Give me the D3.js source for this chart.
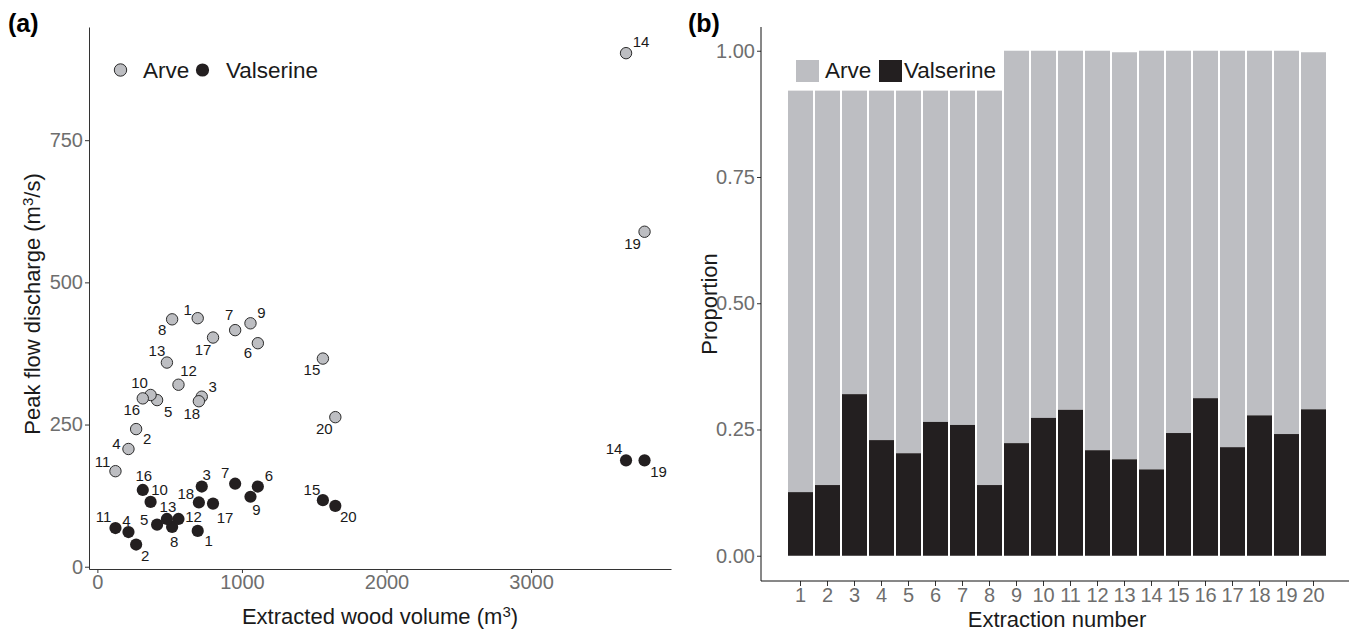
<!DOCTYPE html>
<html><head><meta charset="utf-8">
<script src="https://cdn.jsdelivr.net/npm/d3@7/dist/d3.min.js"></script>
<style>
body{margin:0;background:#fff}
svg{display:block}
text{font-family:"Liberation Sans",Arial,Helvetica,sans-serif}
</style>
</head><body>
<svg id="c" width="1351" height="631"></svg>
<script>
// ---------- data ----------
const extractionNumbers = [1,2,3,4,5,6,7,8,9,10,11,12,13,14,15,16,17,18,19,20];
const woodVolume = [694,268,722,215,413,1110,953,517,1059,368,125,561,481,3657,1560,314,800,702,3785,1646];
const arvePeak = [437,242,299,207,293,393,416,435,428,302,168,320,359,903,366,296,403,291,589,263];
const valserinePeak = [63,39,141,61,74,141,146,70,123,114,68,84,84,187,117,135,111,113,187,107];
const valserineShare = [0.126,0.140,0.320,0.229,0.203,0.265,0.259,0.140,0.223,0.273,0.289,0.209,0.191,0.171,0.243,0.312,0.215,0.278,0.241,0.290];
const barTotal = [0.921,0.921,0.921,0.921,0.921,0.921,0.921,0.921,1,1,1,1,0.997,1,1,1,1,1,1,0.997];
const volumeTicks = [0,1000,2000,3000];
const peakTicks = [0,250,500,750];
const propTicks = [0,0.25,0.5,0.75,1];
const seriesNames = ["Arve","Valserine"];

// ---------- layout (label nudges, px) ----------
const arveNudge = [[-10,-9],[11,9],[11,-10],[-12,-5],[11,11],[-10,9],[-6,-16],[-10,10],[11,-11],[-11,-12],
                   [-13,-10],[10,-14],[-10,-12],[15,-12],[-11,11],[-11,11],[-10,12],[-7,12],[-12,12],[-11,11]];
const valNudge = [[11,10],[9,11],[5,-12],[-2,-12],[-13,-5],[11,-11],[-10,-11],[2,15],[6,13],[9,-12],
                  [-12,-12],[15,-2],[1,-12],[-12,-12],[-11,-11],[1,-14],[12,14],[-13,-9],[14,11],[13,11]];

const GREY = "#bdbec2", BLACK = "#231f20", TICKTXT = "#6e6e6e", AXIS = "#333";
const TICKFS = "20px", TITLEFS = "22px", LEGFS = "22.5px", PTFS = "15px";
const svg = d3.select("#c");

// ================= Panel (a) =================
const x = d3.scaleLinear().domain([-58, 3968]).range([89, 671]);
const y = d3.scaleLinear().domain([-4, 949]).range([569, 27]);

const gxa = svg.append("g").attr("transform", `translate(0,${y(-4)})`)
  .call(d3.axisBottom(x).tickValues(volumeTicks).tickFormat(d3.format("d")).tickSizeOuter(0).tickSizeInner(4).tickPadding(2));
const gya = svg.append("g").attr("transform", `translate(${x(-58)},0)`)
  .call(d3.axisLeft(y).tickValues(peakTicks).tickFormat(d3.format("d")).tickSizeOuter(0).tickSizeInner(4).tickPadding(2));
[gxa, gya].forEach(g => {
  g.select(".domain").attr("stroke", AXIS).attr("stroke-width", 1);
  g.selectAll(".tick line").attr("stroke", AXIS);
  g.selectAll(".tick text").attr("fill", TICKTXT).style("font-size", TICKFS).style("font-family", '"Liberation Sans",Arial,sans-serif');
});

const ptsData = extractionNumbers.map((n, i) => ({n, v: woodVolume[i], a: arvePeak[i], s: valserinePeak[i], an: arveNudge[i], sn: valNudge[i]}));

svg.append("g").selectAll("circle").data(ptsData).join("circle")
  .attr("cx", d => x(d.v)).attr("cy", d => y(d.a)).attr("r", 5.7)
  .attr("fill", GREY).attr("stroke", "#2b2b2b").attr("stroke-width", 1);
svg.append("g").selectAll("circle").data(ptsData).join("circle")
  .attr("cx", d => x(d.v)).attr("cy", d => y(d.s)).attr("r", 6.1)
  .attr("fill", BLACK);

svg.append("g").selectAll("text").data(ptsData).join("text")
  .attr("x", d => x(d.v) + d.an[0]).attr("y", d => y(d.a) + d.an[1])
  .attr("text-anchor", "middle").attr("dominant-baseline", "central")
  .style("font-size", PTFS).attr("fill", "#1a1a1a").text(d => d.n);
svg.append("g").selectAll("text").data(ptsData).join("text")
  .attr("x", d => x(d.v) + d.sn[0]).attr("y", d => y(d.s) + d.sn[1])
  .attr("text-anchor", "middle").attr("dominant-baseline", "central")
  .style("font-size", PTFS).attr("fill", "#1a1a1a").text(d => d.n);

// legend (a)
const lga = svg.append("g");
lga.append("circle").attr("cx", 120.5).attr("cy", 70).attr("r", 6.2).attr("fill", GREY).attr("stroke", "#2b2b2b");
lga.append("text").attr("x", 143).attr("y", 78).style("font-size", LEGFS).attr("fill", "#1a1a1a").text(seriesNames[0]);
lga.append("circle").attr("cx", 202.5).attr("cy", 70).attr("r", 6.6).attr("fill", BLACK);
lga.append("text").attr("x", 226).attr("y", 78).style("font-size", LEGFS).attr("fill", "#1a1a1a").text(seriesNames[1]);

// titles (a)
const xt = svg.append("text").attr("x", (x(-58) + x(3968)) / 2).attr("y", 624)
  .attr("text-anchor", "middle").style("font-size", TITLEFS).attr("fill", "#1a1a1a");
xt.append("tspan").text("Extracted wood volume (m");
xt.append("tspan").attr("dy", -7).style("font-size", "15px").text("3");
xt.append("tspan").attr("dy", 7).text(")");

const yt = svg.append("text").attr("transform", `translate(40,${(y(-4) + y(949)) / 2 + 6}) rotate(-90)`)
  .attr("text-anchor", "middle").style("font-size", TITLEFS).attr("fill", "#1a1a1a");
yt.append("tspan").text("Peak flow discharge (m");
yt.append("tspan").attr("dy", -7).style("font-size", "15px").text("3");
yt.append("tspan").attr("dy", 7).text("/s)");

svg.append("text").attr("x", 8).attr("y", 32).style("font-size", "25px").style("font-weight", "bold").text("(a)");

// ================= Panel (b) =================
const xb = d3.scaleBand().domain(extractionNumbers).range([787, 1327]).paddingInner(0.074).paddingOuter(0.037);
const yb = d3.scaleLinear().domain([-0.05, 1.047]).range([581, 27]);

const barData = extractionNumbers.map((n, i) => ({n, s: valserineShare[i], t: barTotal[i]}));
svg.append("g").selectAll("rect").data(barData).join("rect")
  .attr("x", d => xb(d.n)).attr("width", xb.bandwidth())
  .attr("y", d => yb(d.t)).attr("height", d => yb(d.s) - yb(d.t)).attr("fill", GREY);
svg.append("g").selectAll("rect").data(barData).join("rect")
  .attr("x", d => xb(d.n)).attr("width", xb.bandwidth())
  .attr("y", d => yb(d.s)).attr("height", d => yb(0) - yb(d.s)).attr("fill", BLACK);

const gxb = svg.append("g").attr("transform", `translate(0,581)`)
  .call(d3.axisBottom(xb).tickSizeOuter(0).tickSizeInner(5).tickPadding(2));
const gyb = svg.append("g").attr("transform", `translate(761,0)`)
  .call(d3.axisLeft(yb).tickValues(propTicks).tickFormat(d3.format(".2f")).tickSizeOuter(0).tickSizeInner(4).tickPadding(2));
[gxb, gyb].forEach(g => {
  g.select(".domain").remove();
  g.selectAll(".tick line").attr("stroke", AXIS);
  g.selectAll(".tick text").attr("fill", TICKTXT).style("font-size", TICKFS).style("font-family", '"Liberation Sans",Arial,sans-serif');
});
svg.append("line").attr("x1", 761).attr("x2", 1349).attr("y1", 581).attr("y2", 581).attr("stroke", "#111");
svg.append("line").attr("x1", 761).attr("x2", 761).attr("y1", 27).attr("y2", 581).attr("stroke", "#111");

// legend (b)
const lgb = svg.append("g");
lgb.append("rect").attr("x", 796).attr("y", 60).attr("width", 23).attr("height", 22).attr("fill", GREY);
lgb.append("text").attr("x", 825).attr("y", 78).style("font-size", LEGFS).attr("fill", "#1a1a1a").text(seriesNames[0]);
lgb.append("rect").attr("x", 879).attr("y", 60).attr("width", 23).attr("height", 22).attr("fill", BLACK);
lgb.append("text").attr("x", 904).attr("y", 78).style("font-size", LEGFS).attr("fill", "#1a1a1a").text(seriesNames[1]);

svg.append("text").attr("x", (787 + 1327) / 2).attr("y", 627).attr("text-anchor", "middle")
  .style("font-size", TITLEFS).attr("fill", "#1a1a1a").text("Extraction number");
svg.append("text").attr("transform", `translate(717,${(27 + 581) / 2}) rotate(-90)`).attr("text-anchor", "middle")
  .style("font-size", TITLEFS).attr("fill", "#1a1a1a").text("Proportion");
svg.append("text").attr("x", 688).attr("y", 32).style("font-size", "25px").style("font-weight", "bold").text("(b)");
</script>
</body></html>
